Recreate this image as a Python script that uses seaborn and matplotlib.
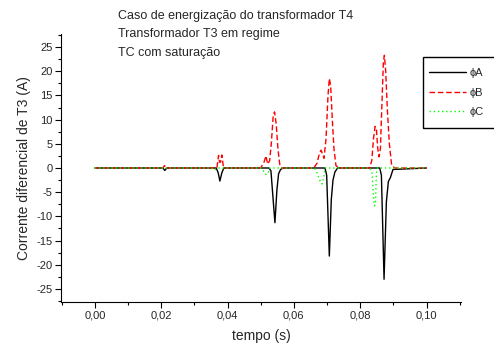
import numpy as np
import pandas as pd
import matplotlib
matplotlib.use("Agg")
import matplotlib.pyplot as plt
import seaborn as sns
from matplotlib.ticker import FixedLocator, MultipleLocator
from matplotlib.patches import Rectangle

sns.set_style("ticks")
plt.rcParams['font.family'] = ['Liberation Sans', 'DejaVu Sans']

# ---- data (breakpoints) ----
tA = [0.0, 0.0205, 0.0211, 0.0217, 0.0366, 0.0372, 0.0377, 0.0383, 0.0389,
      0.0525, 0.0531, 0.0537, 0.0543, 0.0549, 0.0554, 0.0560, 0.0568,
      0.0694, 0.0699, 0.0707, 0.0713, 0.0718, 0.0724, 0.0732,
      0.0859, 0.0864, 0.0872, 0.0879, 0.0885, 0.0891, 0.0899, 0.1]
vA = [0.0, 0.0, -0.5, 0.0, 0.0, -1.0, -2.7, -1.0, 0.0,
      0.0, -0.6, -6.0, -11.3, -4.5, -1.2, -0.3, 0.0,
      0.0, -1.5, -18.2, -6.5, -2.5, -0.8, 0.0,
      0.0, -1.5, -23.0, -7.0, -2.8, -2.0, -0.3, 0.0]

tB = [0.0, 0.0205, 0.0210, 0.0215, 0.0368, 0.0373, 0.0376, 0.0379, 0.0383, 0.0387, 0.0391,
      0.0500, 0.0510, 0.0516, 0.0521, 0.0527, 0.0532, 0.0538, 0.0542, 0.0547, 0.0552, 0.0558, 0.0565,
      0.0660, 0.0670, 0.0677, 0.0682, 0.0687, 0.0691, 0.0697, 0.0703, 0.0707, 0.0711, 0.0716, 0.0721, 0.0727, 0.0735,
      0.0828, 0.0835, 0.0840, 0.0845, 0.0849, 0.0853, 0.0857, 0.0861, 0.0866, 0.0870, 0.0873, 0.0877, 0.0882, 0.0888, 0.0895, 0.0905, 0.1]
vB = [0.0, 0.0, 0.5, 0.0, 0.0, 2.6, 1.2, 1.2, 2.7, 0.5, 0.0,
      0.0, 1.2, 2.5, 0.8, 1.5, 5.0, 11.0, 11.6, 9.0, 4.0, 0.5, 0.0,
      0.0, 1.0, 3.0, 3.7, 2.8, 2.0, 6.0, 15.0, 18.5, 17.0, 10.0, 4.0, 0.5, 0.0,
      0.0, 1.5, 6.0, 8.6, 8.0, 4.0, 2.3, 4.0, 14.0, 22.0, 23.3, 20.0, 12.0, 5.0, 0.5, 0.0, 0.0]

tC = [0.0, 0.0352, 0.0357, 0.0363, 0.0368,
      0.0500, 0.0508, 0.0513, 0.0518, 0.0524, 0.0528,
      0.0662, 0.0670, 0.0678, 0.0685, 0.0690, 0.0694,
      0.0830, 0.0836, 0.0839, 0.0843, 0.0846, 0.0849, 0.0852, 0.1]
vC = [0.0, 0.0, -0.4, -0.3, 0.0,
      0.0, -0.5, -1.2, -1.4, -0.8, 0.0,
      0.0, -1.0, -2.5, -3.3, -2.0, 0.0,
      0.0, -1.0, -5.0, -7.8, -7.5, -1.0, 0.0, 0.0]

labels = ["ϕA", "ϕB", "ϕC"]
xticks = [0.0, 0.02, 0.04, 0.06, 0.08, 0.10]
xticklabels = ["0,00", "0,02", "0,04", "0,06", "0,08", "0,10"]
yticks = [-25, -20, -15, -10, -5, 0, 5, 10, 15, 20, 25]
notes = ["Caso de energização do transformador T4",
         "Transformador T3 em regime",
         "TC com saturação"]

df = pd.concat([
    pd.DataFrame({"t": tA, "v": vA, "fase": labels[0]}),
    pd.DataFrame({"t": tB, "v": vB, "fase": labels[1]}),
    pd.DataFrame({"t": tC, "v": vC, "fase": labels[2]}),
], ignore_index=True)

fig = plt.figure(figsize=(4.94, 3.44), dpi=100)
ax = fig.add_axes([61/494, 1-302/344, (461-61)/494, (302-34)/344])

palette = {labels[0]: "black", labels[1]: "#ff0000", labels[2]: "#00ff00"}
styles = {labels[0]: "-", labels[1]: (0, (4, 2)), labels[2]: (0, (1, 2))}
for lab in labels:
    sub = df[df.fase == lab]
    sns.lineplot(data=sub, x="t", y="v", ax=ax, color=palette[lab],
                 linestyle=styles[lab], linewidth=1.0, label=lab,
                 sort=False, estimator=None)

ax.set_xlim(-0.0102, 0.1104)
ax.set_ylim(-27.7, 27.7)
ax.xaxis.set_major_locator(FixedLocator(xticks))
ax.set_xticklabels(xticklabels)
ax.xaxis.set_minor_locator(MultipleLocator(0.01))
ax.yaxis.set_major_locator(FixedLocator(yticks))
ax.set_yticklabels([str(y) for y in yticks])
ax.yaxis.set_minor_locator(MultipleLocator(2.5))
ax.tick_params(which="major", direction="out", length=4, width=0.8, labelsize=8, pad=2, color="black")
ax.tick_params(which="minor", direction="out", length=2, width=0.8, color="black")
for s in ["top", "right"]:
    ax.spines[s].set_visible(False)
for s in ["left", "bottom"]:
    ax.spines[s].set_color("black")
    ax.spines[s].set_linewidth(0.8)

ax.set_xlabel("tempo (s)", fontsize=10, labelpad=6)
ax.set_ylabel("Corrente diferencial de T3 (A)", fontsize=10, labelpad=4)

for i, n in enumerate(notes):
    fig.text(118/494, 1-(16 + 18.5*i)/344, n, fontsize=9, va="center", ha="left")

leg = ax.legend(loc="center left", bbox_to_anchor=(429/494, 1-92.7/344),
                bbox_transform=fig.transFigure, fontsize=8, frameon=False,
                handlelength=3.3, handletextpad=0.4, labelspacing=0.86,
                borderpad=0, borderaxespad=0)
fig.patches.append(Rectangle((423/494, 1-128.3/344), 80/494, (128.3-56.7)/344,
                             transform=fig.transFigure, fill=False,
                             edgecolor="black", linewidth=1.0))

fig.savefig("out.png", dpi=100)
